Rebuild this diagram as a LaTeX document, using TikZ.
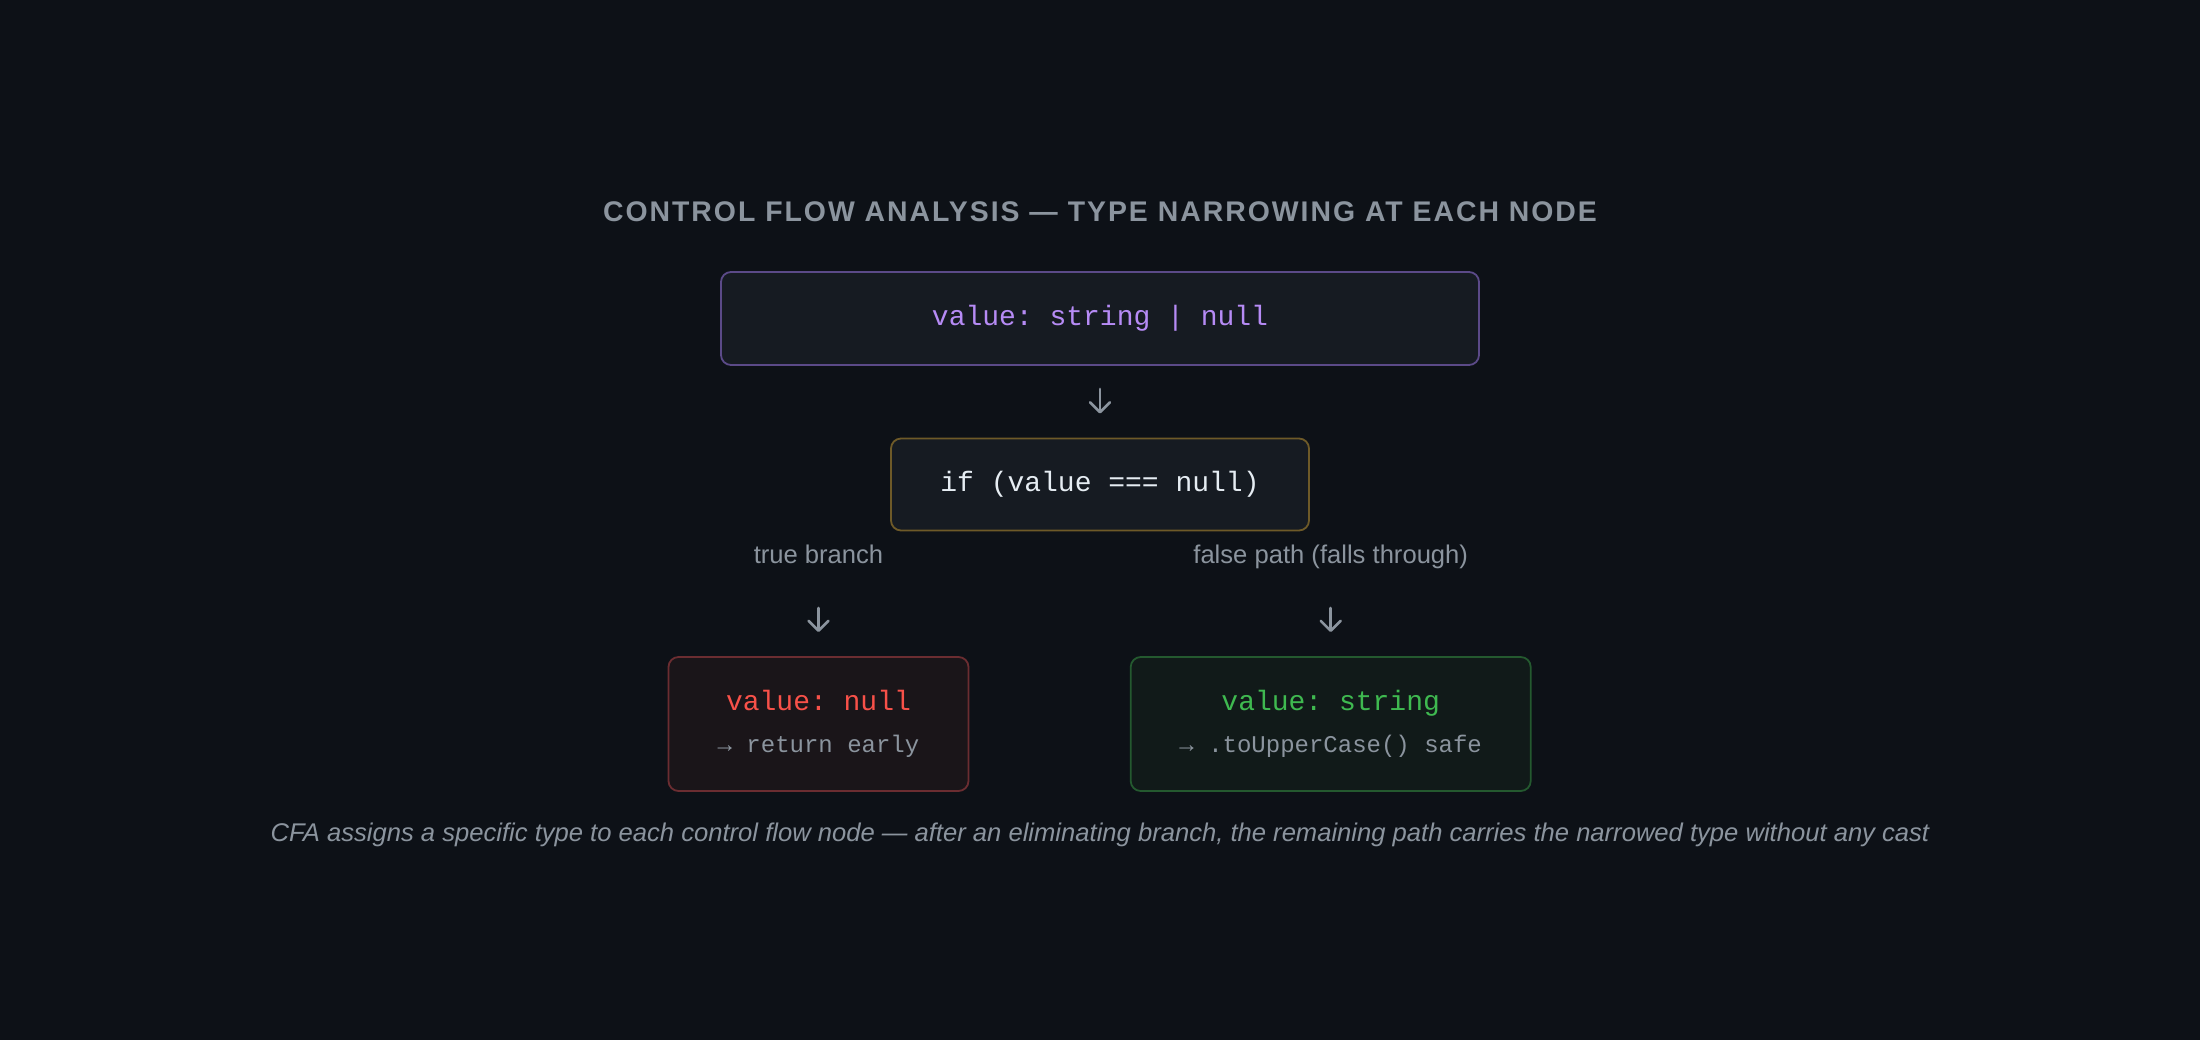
\documentclass[tikz,border=0pt]{standalone}
\usepackage{fontspec}
\setmainfont{Liberation Sans}
\setmonofont{Liberation Mono}
\newfontfamily\headfont[LetterSpace=7]{Liberation Sans}
\usetikzlibrary{positioning, arrows.meta}
\definecolor{canvas}{HTML}{0D1117}
\definecolor{panel}{HTML}{161B22}
\definecolor{muted}{HTML}{8B949E}
\definecolor{violet}{HTML}{B68BF5}
\definecolor{violetline}{HTML}{5B4A88}
\definecolor{goldline}{HTML}{6E5A28}
\definecolor{plain}{HTML}{E6EDF3}
\definecolor{nullred}{HTML}{F85149}
\definecolor{nullline}{HTML}{6B2D31}
\definecolor{nullfill}{HTML}{1A1519}
\definecolor{okgreen}{HTML}{3FB950}
\definecolor{okline}{HTML}{24592F}
\definecolor{okfill}{HTML}{111A19}

\begin{document}
\begin{tikzpicture}[
    x = 0.5pt, y = -0.5pt,
    box/.style = {rectangle, rounded corners = 5pt, draw, line width = 0.9pt, fill = panel, inner sep = 0pt, align = center},
    typebox/.style = {box, draw = violetline, text = violet, minimum width = 379pt, minimum height = 46.5pt, font = \ttfamily\fontsize{14}{21}\selectfont},
    guardbox/.style = {box, draw = goldline, text = plain, minimum width = 209pt, minimum height = 46pt, font = \ttfamily\fontsize{14}{21}\selectfont},
    outcome/.style = {box, minimum height = 67pt, font = \ttfamily\fontsize{14}{21}\selectfont},
    note/.style = {text = muted, inner sep = 0pt, font = \fontsize{12.8}{15}\selectfont},
    flow/.style = {draw = muted, line width = 1.3pt, line cap = round, -{Straight Barb[length = 5pt, width = 10pt, round]}},
    ]

    \fill [canvas] (0,0) rectangle (2200,1040);
    \useasboundingbox (0,0) rectangle (2200,1040);

    % heading and caption
    \node [text = muted, font = \headfont\bfseries\fontsize{14.2}{16}\selectfont] (heading) at (1100,212) {CONTROL FLOW ANALYSIS — TYPE NARROWING AT EACH NODE};
    \node [note, font = \itshape\fontsize{12.8}{15}\selectfont] (caption) at (1100,835) {CFA assigns a specific type to each control flow node — after an eliminating branch, the remaining path carries the narrowed type without any cast};

    % draw the nodes of the flow
    \node [typebox] (decl) at (1100,318.5) {value: string | null};
    \node [guardbox] (guard) [below = 35.85pt of decl] {if (value === null)};
    \node [outcome, draw = nullline, fill = nullfill, minimum width = 150pt] (nullcase) at (818.5,724)
        {\textcolor{nullred}{value: null}\\{\fontsize{12}{21}\selectfont\color{muted}→ return early}};
    \node [outcome, draw = okline, fill = okfill, minimum width = 200pt] (strcase) at (1330.7,724)
        {\textcolor{okgreen}{value: string}\\{\fontsize{12}{21}\selectfont\color{muted}→ .toUpperCase() safe}};

    % branch labels
    \node [note, anchor = base] (truelbl) at (818.5,563) {true branch};
    \node [note, anchor = base] (falselbl) at (1330.7,563) {false path (falls through)};

    % draw arrows
    \draw [flow, shorten <= 11.5pt, shorten >= 12pt] (decl) -- (guard);
    \draw [flow, shorten <= 22.5pt, shorten >= 12pt] (truelbl.base) -- (nullcase.north);
    \draw [flow, shorten <= 22.5pt, shorten >= 12pt] (falselbl.base) -- (strcase.north);
\end{tikzpicture}
\end{document}
